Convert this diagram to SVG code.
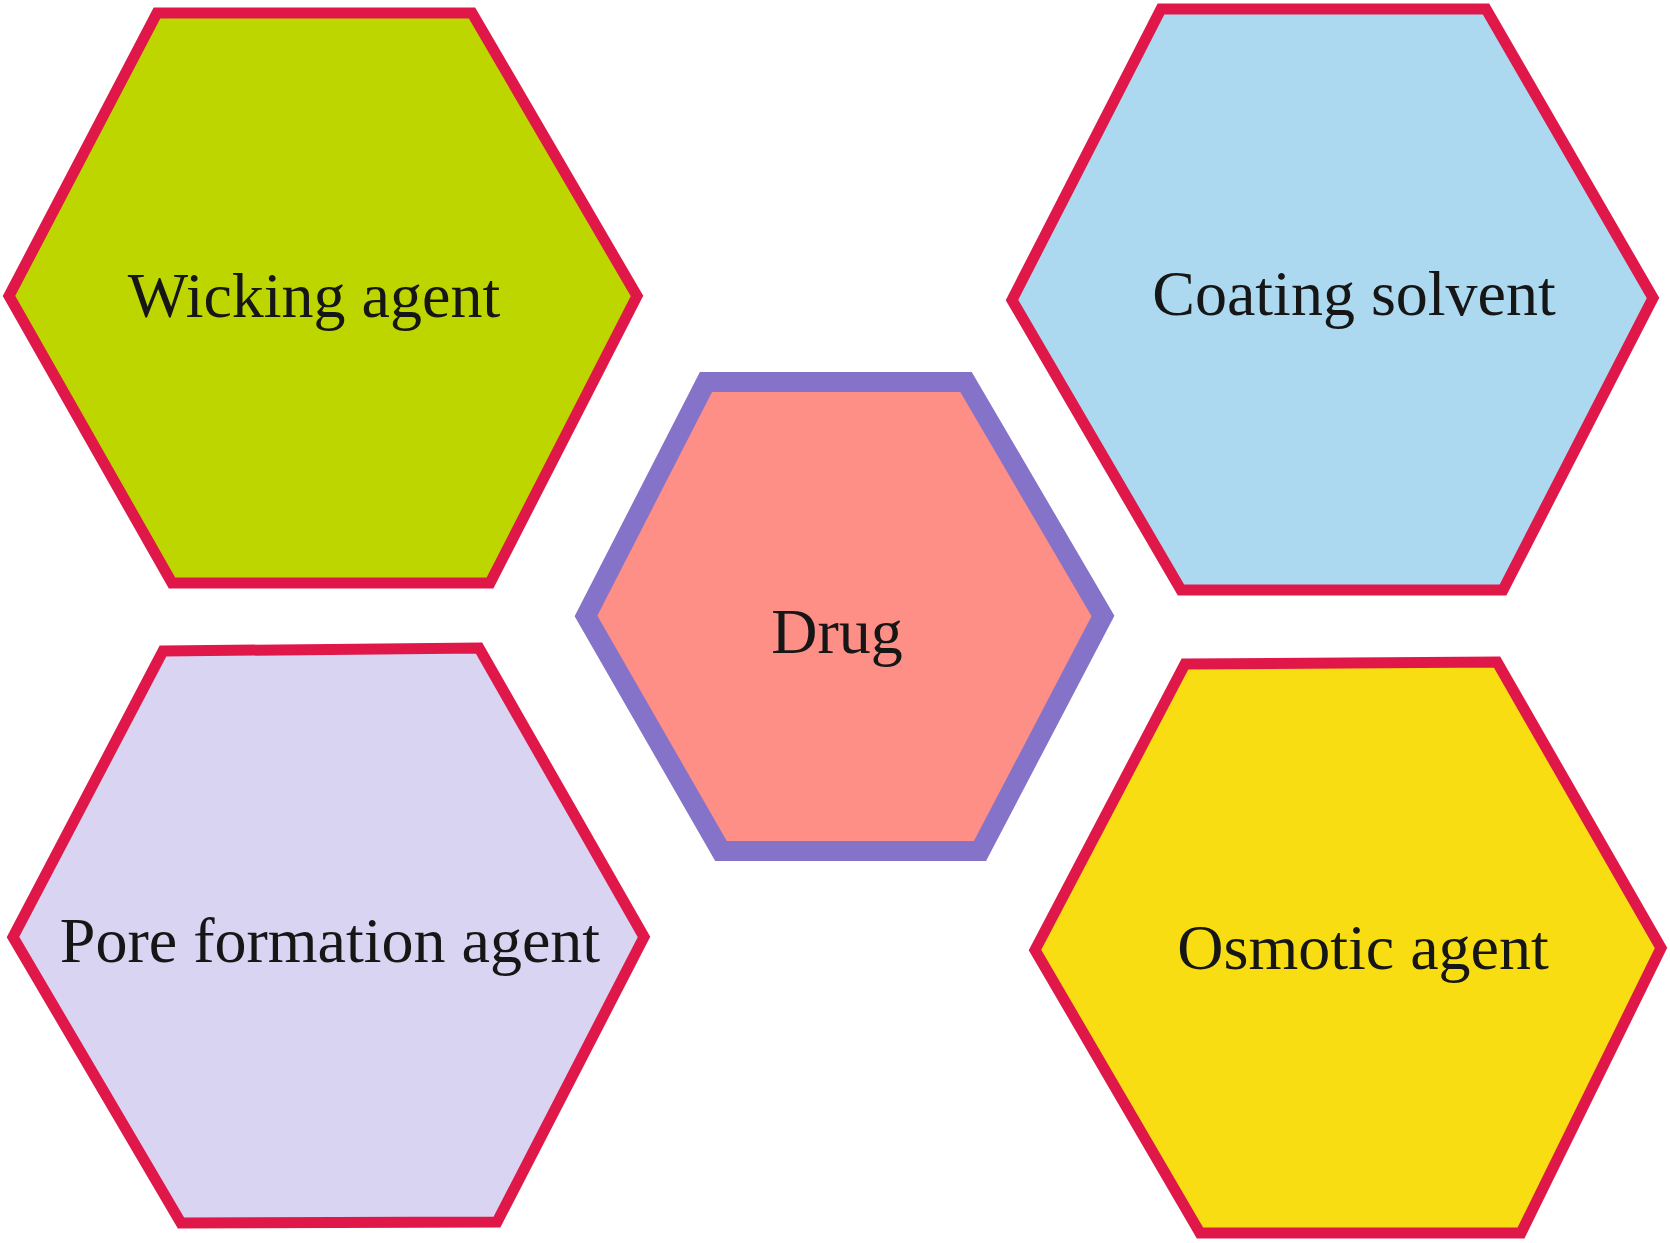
<svg xmlns="http://www.w3.org/2000/svg" width="1670" height="1243" viewBox="0 0 1670 1243">
<style>
.hex{stroke:#e0184a;stroke-width:11;stroke-linejoin:miter}
.drug{stroke:#8573c9;stroke-width:20;stroke-linejoin:miter}
.lbl{font-family:"Liberation Serif","Times New Roman",serif;font-size:64px;fill:#161616;text-anchor:middle}
</style>
<rect width="1670" height="1243" fill="#ffffff"/>
<g id="connectors"></g>
<g id="wicking">
<polygon class="hex" fill="#bed600" points="157,13 472,13 637,296 490,583 172,583 9,296"/>
<text class="lbl" x="314" y="317">Wicking agent</text>
</g>
<g id="coating">
<polygon class="hex" fill="#acd9f0" points="1161,9 1486,9 1653,298 1503,590 1181,590 1012,300"/>
<text class="lbl" x="1354" y="315">Coating solvent</text>
</g>
<g id="drug">
<polygon class="drug" fill="#fd8f87" points="706,382 966,382 1103,616 980,851 721,851 586,616"/>
<text class="lbl" x="837" y="653">Drug</text>
</g>
<g id="pore">
<polygon class="hex" fill="#d8d4f2" points="163,651 479,648 644,937 497,1222 181,1223 13,937"/>
<text class="lbl" x="330" y="962">Pore formation agent</text>
</g>
<g id="osmotic">
<polygon class="hex" fill="#f8dd12" points="1185,664 1497,662 1661,948 1521,1233 1200,1233 1035,950"/>
<text class="lbl" x="1363" y="969">Osmotic agent</text>
</g>
</svg>
